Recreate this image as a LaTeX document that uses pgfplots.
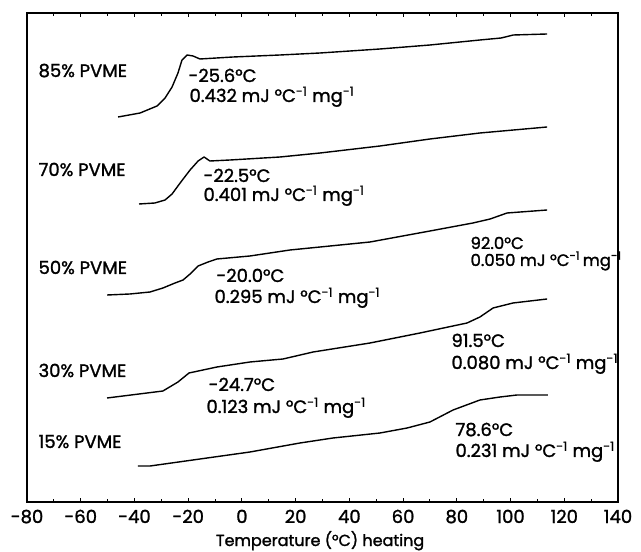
\documentclass[border=0pt]{standalone}
\usepackage{fontspec}
\setmainfont{Poppins}[FakeBold=1.4]
\usepackage{pgfplots}
\pgfplotsset{compat=1.18}
\newcommand{\lbl}{\fontsize{18bp}{21bp}\selectfont}
\newcommand{\unitlbl}{mJ~°C\textsuperscript{-1}~mg\textsuperscript{-1}}
\pgfplotsset{trace/.style={black, line width=1.4bp, line join=round, mark=none}}

\begin{document}
\begin{tikzpicture}
\useasboundingbox (-27bp,-50bp) rectangle (614bp,502bp);
\begin{axis}[
  scale only axis, width=591bp, height=489bp,
  xmin=-80, xmax=140, ymin=50, ymax=539,
  xtick={-80,-60,...,140}, minor x tick num=1,
  ytick=\empty,
  tick align=inside, major tick length=4bp, minor tick length=3bp,
  axis line style={line width=1.3bp},
  every tick/.style={black, line width=1bp},
  xticklabel style={anchor=base, yshift=-21bp, font=\fontsize{18bp}{20bp}\selectfont},
  /pgf/number format/assume math mode=true,
  clip=false,
]
% 85% PVME
\addplot[trace] coordinates {(-46.1,435) (-37.9,439) (-31.6,446) (-28.6,454) (-26.0,465) (-23.8,479) (-22.3,492) (-20.4,497) (-18.2,496) (-15.6,493) (-3.3,495) (14.2,497) (29.1,499) (51.4,503) (70.0,507) (88.6,512) (96.5,514) (101.0,517) (113.6,518)};
% 70% PVME
\addplot[trace] coordinates {(-38.3,348) (-32.4,349) (-28.6,352) (-26.0,358) (-23.0,369) (-19.3,382) (-16.3,391) (-14.1,395) (-11.9,391) (-4.4,392) (14.2,395) (29.1,399) (51.4,406) (70.0,413) (88.6,419) (113.6,425)};
% 50% PVME
\addplot[trace] coordinates {(-50.2,257) (-41.7,258) (-34.2,260) (-29.4,264) (-24.9,269) (-21.9,272) (-19.3,278) (-16.3,286) (-12.6,290) (-9.3,293) (3.0,296) (17.9,302) (29.1,305) (47.7,310) (70.0,321) (86.0,329) (92.4,333) (98.7,339) (113.6,342)};
% 30% PVME
\addplot[trace] coordinates {(-50.2,154) (-29.4,161) (-23.8,170) (-19.7,179) (-9.3,185) (3.0,190) (15.3,193) (26.5,200) (47.7,209) (66.3,219) (83.8,229) (88.6,235) (93.5,244) (100.9,249) (113.6,253)};
% 15% PVME
\addplot[trace] coordinates {(-38.7,86) (-34.2,86) (-15.6,93) (3.0,100) (21.6,109) (33.9,114) (51.4,119) (61.5,124) (70.0,130) (78.6,142) (88.6,152) (96.1,155) (102.4,157) (113.9,157)};

% sample names
\node[anchor=base west, font=\lbl] at (axis cs:-77,475) {85\% PVME};
\node[anchor=base west, font=\lbl] at (axis cs:-77,376) {70\% PVME};
\node[anchor=base west, font=\lbl] at (axis cs:-77,278) {50\% PVME};
\node[anchor=base west, font=\lbl] at (axis cs:-77,175) {30\% PVME};
\node[anchor=base west, font=\lbl] at (axis cs:-77,104) {15\% PVME};

% glass transition annotations
\node[anchor=base west, font=\lbl] at (axis cs:-21.2,470) {-25.6°C};
\node[anchor=base west, font=\lbl] at (axis cs:-20.8,450) {0.432 \unitlbl};
\node[anchor=base west, font=\lbl] at (axis cs:-15.6,370) {-22.5°C};
\node[anchor=base west, font=\lbl] at (axis cs:-15.6,351) {0.401 \unitlbl};
\node[anchor=base west, font=\lbl] at (axis cs:-10.8,270) {-20.0°C};
\node[anchor=base west, font=\lbl] at (axis cs:-11.5,249) {0.295 \unitlbl};
\node[anchor=base west, font=\lbl] at (axis cs:-13.7,161) {-24.7°C};
\node[anchor=base west, font=\lbl] at (axis cs:-14.5,139) {0.123 \unitlbl};
\node[anchor=base west, font=\fontsize{16.5bp}{19bp}\selectfont] at (axis cs:83.8,303) {92.0°C};
\node[anchor=base west, font=\fontsize{16.5bp}{19bp}\selectfont] at (axis cs:83.8,286) {0.050 mJ °C\textsuperscript{-1}\,mg\textsuperscript{-1}};
\node[anchor=base west, font=\lbl] at (axis cs:76.7,205) {91.5°C};
\node[anchor=base west, font=\lbl] at (axis cs:76.7,183) {0.080 \unitlbl};
\node[anchor=base west, font=\lbl] at (axis cs:78.2,116) {78.6°C};
\node[anchor=base west, font=\lbl] at (axis cs:78.2,95) {0.231 \unitlbl};

% axis title
\node[anchor=base, font=\fontsize{16bp}{18bp}\selectfont] at (axis cs:29.1,6) {Temperature (°C) heating};
\end{axis}
\end{tikzpicture}
\end{document}
